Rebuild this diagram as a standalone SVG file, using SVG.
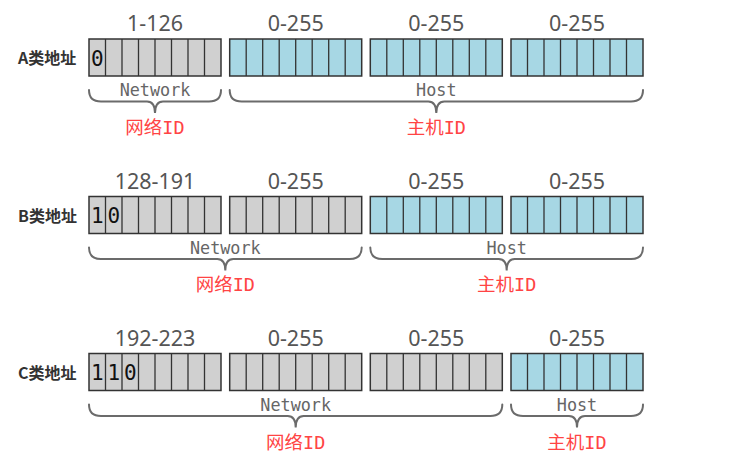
<svg xmlns="http://www.w3.org/2000/svg" xmlns:xlink="http://www.w3.org/1999/xlink" width="734" height="454" viewBox="0 0 734 454">
<style>
.range{font-family:"Noto Sans","Liberation Sans",sans-serif;font-size:21.5px;fill:#555;text-anchor:middle}
.cls{font-family:"Noto Sans CJK SC","Noto Sans",sans-serif;font-size:16px;font-weight:bold;fill:#333}
.bit{font-family:"DejaVu Sans Mono",monospace;font-size:21px;fill:#111;text-anchor:middle}
.part{font-family:"DejaVu Sans Mono",monospace;font-size:16.8px;fill:#666;text-anchor:middle}
.id{font-family:"DejaVu Sans Mono","Noto Sans CJK SC",monospace;font-size:18.5px;fill:#f44;text-anchor:middle}
.brace{fill:none;stroke:#6b6b6b;stroke-width:2;stroke-linecap:round}
.cellline{stroke:#333;stroke-width:1.3}
</style>
<defs>
<g id="cells">
<path class="cellline" d="M16.5,0V37M33,0V37M49.5,0V37M66,0V37M82.5,0V37M99,0V37M115.5,0V37"/>
</g>
<g id="gray"><rect x="0" y="0" width="132" height="37" fill="#d0d0d0" stroke="#333" stroke-width="1.5"/><use xlink:href="#cells"/></g>
<g id="blue"><rect x="0" y="0" width="132" height="37" fill="#a7d7e4" stroke="#333" stroke-width="1.5"/><use xlink:href="#cells"/></g>
</defs>

<g id="rowA">
<text class="cls" x="18" y="64">A类地址</text>
<g id="a-byte1"><use xlink:href="#gray" x="89" y="39"/><text class="range" x="155" y="31">1-126</text><text class="bit" x="97.25" y="65.5">0</text></g>
<g id="a-byte2"><use xlink:href="#blue" x="229.7" y="39"/><text class="range" x="295.7" y="31">0-255</text></g>
<g id="a-byte3"><use xlink:href="#blue" x="370.3" y="39"/><text class="range" x="436.3" y="31">0-255</text></g>
<g id="a-byte4"><use xlink:href="#blue" x="511" y="39"/><text class="range" x="577" y="31">0-255</text></g>
</g>

<g id="rowB">
<text class="cls" x="18" y="221.5">B类地址</text>
<g id="b-byte1"><use xlink:href="#gray" x="89" y="196.5"/><text class="range" x="155" y="188.5">128-191</text><text class="bit" x="97.25" y="223">1</text><text class="bit" x="113.75" y="223">0</text></g>
<g id="b-byte2"><use xlink:href="#gray" x="229.7" y="196.5"/><text class="range" x="295.7" y="188.5">0-255</text></g>
<g id="b-byte3"><use xlink:href="#blue" x="370.3" y="196.5"/><text class="range" x="436.3" y="188.5">0-255</text></g>
<g id="b-byte4"><use xlink:href="#blue" x="511" y="196.5"/><text class="range" x="577" y="188.5">0-255</text></g>
</g>

<g id="rowC">
<text class="cls" x="18" y="378.5">C类地址</text>
<g id="c-byte1"><use xlink:href="#gray" x="89" y="353.5"/><text class="range" x="155" y="345.5">192-223</text><text class="bit" x="97.25" y="380">1</text><text class="bit" x="113.75" y="380">1</text><text class="bit" x="130.25" y="380">0</text></g>
<g id="c-byte2"><use xlink:href="#gray" x="229.7" y="353.5"/><text class="range" x="295.7" y="345.5">0-255</text></g>
<g id="c-byte3"><use xlink:href="#gray" x="370.3" y="353.5"/><text class="range" x="436.3" y="345.5">0-255</text></g>
<g id="c-byte4"><use xlink:href="#blue" x="511" y="353.5"/><text class="range" x="577" y="345.5">0-255</text></g>
</g>

<g id="connectors">
<path class="brace" d="M89,90 Q89,101.5 101,101.5 L147,101.5 Q155,101.5 155,113 Q155,101.5 163,101.5 L209,101.5 Q221,101.5 221,90"/>
<path class="brace" d="M229.7,90 Q229.7,101.5 241.7,101.5 L428.3,101.5 Q436.3,101.5 436.3,113 Q436.3,101.5 444.3,101.5 L631,101.5 Q643,101.5 643,90"/>
<path class="brace" d="M89,247.5 Q89,259 101,259 L217.3,259 Q225.3,259 225.3,270.5 Q225.3,259 233.3,259 L349.7,259 Q361.7,259 361.7,247.5"/>
<path class="brace" d="M370.3,247.5 Q370.3,259 382.3,259 L498.7,259 Q506.7,259 506.7,270.5 Q506.7,259 514.7,259 L631,259 Q643,259 643,247.5"/>
<path class="brace" d="M89,404.5 Q89,416 101,416 L287.7,416 Q295.7,416 295.7,427.5 Q295.7,416 303.7,416 L490.3,416 Q502.3,416 502.3,404.5"/>
<path class="brace" d="M511,404.5 Q511,416 523,416 L569,416 Q577,416 577,427.5 Q577,416 585,416 L631,416 Q643,416 643,404.5"/>
</g>

<g id="labels">
<text class="part" x="155" y="96">Network</text>
<text class="id" x="155" y="134">网络ID</text>
<text class="part" x="436.3" y="96">Host</text>
<text class="id" x="436.3" y="134">主机ID</text>
<text class="part" x="225.3" y="253.5">Network</text>
<text class="id" x="225.3" y="291">网络ID</text>
<text class="part" x="506.7" y="253.5">Host</text>
<text class="id" x="506.7" y="291">主机ID</text>
<text class="part" x="295.7" y="410.5">Network</text>
<text class="id" x="295.7" y="448.5">网络ID</text>
<text class="part" x="577" y="410.5">Host</text>
<text class="id" x="577" y="448.5">主机ID</text>
</g>
</svg>
